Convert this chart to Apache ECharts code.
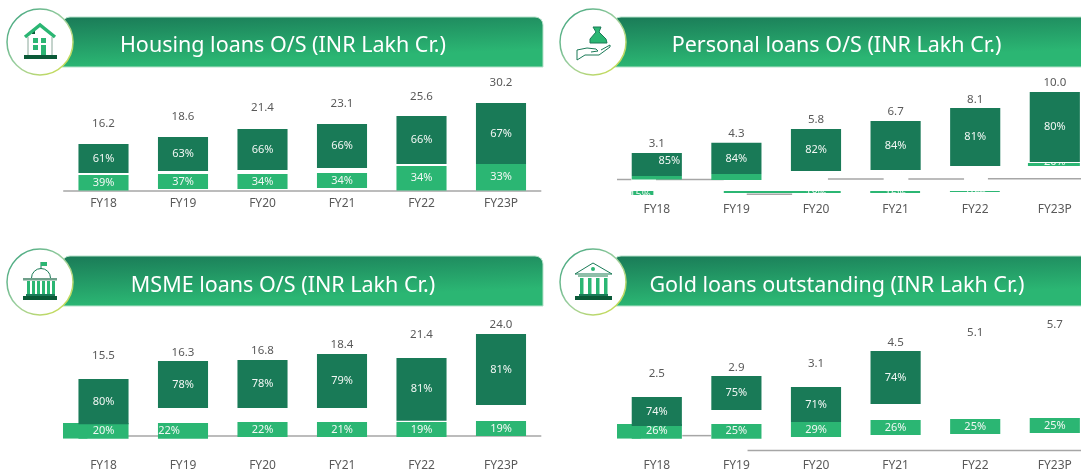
<!DOCTYPE html>
<html>
<head>
<meta charset="utf-8">
<style>
  html, body { margin: 0; padding: 0; background: #fff; }
  #chart { width: 1081px; height: 476px; }
</style>
<script src="https://cdn.jsdelivr.net/npm/echarts@6/dist/echarts.min.js"></script>
</head>
<body>
<div id="chart"></div>
<script>
const categories = ['FY18', 'FY19', 'FY20', 'FY21', 'FY22', 'FY23P']

// INR Lakh Cr. Segment ends are read off the picture, the bars there do not sit on the axis exactly
const housingTotals = ['16.2', '18.6', '21.4', '23.1', '25.6', '30.2']
const housingDarkShare = ['61%', '63%', '66%', '66%', '66%', '67%']
const housingLightShare = ['39%', '37%', '34%', '34%', '34%', '33%']
const housingDarkTop = [16.15, 18.58, 21.35, 23.09, 25.87, 30.38]
const housingDarkBottom = [6.08, 6.77, 7.12, 7.81, 9.2, 9.2]
const housingLightTop = [5.38, 5.73, 5.73, 6.08, 8.51, 9.2]
const housingLightBottom = [0, 0.52, 0.52, 0.87, 0, 0]
const housingTotalAt = [23.09, 25.52, 28.65, 30.03, 32.47, 37.33]

const personalTotals = ['3.1', '4.3', '5.8', '6.7', '8.1', '10.0']
const personalDarkShare = ['85%', '84%', '82%', '84%', '81%', '80%']
const personalDarkTop = [3.03, 4.2, 5.77, 6.69, 8.17, 10]
const personalDarkBottom = [0.4, 0.63, 0.97, 1.09, 1.54, 2]
const personalLightTop = [0.4, 0.63, null, null, null, 1.89]
const personalLightBottom = [0, -0.06, null, null, null, 1.54]
const personalTotalAt = [4.06, 5.23, 6.8, 7.71, 9.12, 11.03]

const msmeTotals = ['15.5', '16.3', '16.8', '18.4', '21.4', '24.0']
const msmeDarkShare = ['80%', '78%', '78%', '79%', '81%', '81%']
const msmeLightShare = ['20%', '22%', '22%', '21%', '19%', '19%']
const msmeDarkTop = [13.41, 17.65, 17.88, 19.29, 18.35, 24]
const msmeDarkBottom = [2.75, 6.59, 6.59, 6.59, 3.6, 7.29]
const msmeLightTop = [3.06, 3.06, 3.29, 3.29, 3.29, 3.53]
const msmeLightBottom = [-0.64, -0.64, -0.24, -0.24, -0.24, 0]
const msmeTotalAt = [18.89, 19.6, 20.07, 21.41, 23.76, 26.19]

const goldTotals = ['2.5', '2.9', '3.1', '4.5', '5.1', '5.7']
const goldDarkShare = ['74%', '75%', '71%', '74%', null, null]
const goldLightShare = ['26%', '25%', '29%', '26%', '25%', '25%']
const goldDarkTop = [2.17, 3.33, 2.72, 4.72, null, null]
const goldDarkBottom = [0.56, 1.44, 0.78, 1.78, null, null]
const goldLightTop = [0.67, 0.67, 0.78, 0.89, 0.94, 1]
const goldLightBottom = [-0.15, -0.15, -0.06, 0.06, 0.11, 0.17]
const goldTotalAt = [3.44, 3.79, 4.02, 5.18, 5.74, 6.17]

// green pieces with no whole bar of their own: x in category widths from the grid edge
const personalPieces = [
  { from: 0.18, to: 0.46, low: -1.31, high: -1.77, text: '15%', at: 0.29, textY: -1.77 },
  { from: 1.34, to: 2.81, low: -1.31, high: -1.54, text: '16%', at: 1.5, textY: -1.6 },
  { from: 1.34, to: 2.81, low: -1.31, high: -1.54, text: '18%', at: 2.5, textY: -1.6 },
  { from: 3.18, to: 3.81, low: -1.31, high: -1.54, text: '16%', at: 3.5, textY: -1.6 },
  { from: 4.18, to: 4.81, low: -1.31, high: -1.43, text: '19%', at: 4.5, textY: -1.5 },
  { from: 5.16, to: 5.79, low: 1.54, high: 1.89, text: '20%', at: 5.5, textY: 1.98 }
]
const msmePieces = [{ from: -0.01, to: 0.3, low: -0.64, high: 3.06 }]
const goldPieces = [{ from: 0, to: 0.3, low: -0.15, high: 0.67 }]

// baseline stretches where the axis is broken up: [from, to, y]
const personalRules = [[0, 0.18, 0], [0.49, 1.34, 0], [2.65, 3.35, 0.06], [3.66, 4.36, 0.06], [4.66, 6, 0.09], [1.63, 2.2, -1.69]]
const goldRules = [[0.82, 1.18, 0.02], [1.64, 6, -0.8]]

const DARK = '#197a57'
const LIGHT = '#2bb673'
const FONT = 'Noto Sans'

const panels = [
  { title: 'Housing loans O/S (INR Lakh Cr.)', titleX: 283, titleY: 44, left: 63.75, width: 477, top: 70, height: 125, axisY: 190.5, pxPerUnit: 2.88, labelGap: 3, showAxis: true,
    totals: housingTotals, darkShare: housingDarkShare, lightShare: housingLightShare, darkTop: housingDarkTop, darkBottom: housingDarkBottom, lightTop: housingLightTop, lightBottom: housingLightBottom, totalAt: housingTotalAt, pieces: [], rules: [] },
  { title: 'Personal loans O/S (INR Lakh Cr.)', titleX: 836.5, titleY: 44, left: 617, width: 477.6, top: 70, height: 125, axisY: 179.5, pxPerUnit: 8.75, labelGap: 9, showAxis: false,
    totals: personalTotals, darkShare: personalDarkShare, lightShare: [], darkTop: personalDarkTop, darkBottom: personalDarkBottom, lightTop: personalLightTop, lightBottom: personalLightBottom, totalAt: personalTotalAt, pieces: personalPieces, rules: personalRules,
    darkNudge: { 0: [12.5, -4] } },
  { title: 'MSME loans O/S (INR Lakh Cr.)', titleX: 283, titleY: 284, left: 63.75, width: 477, top: 310, height: 132, axisY: 436, pxPerUnit: 4.25, labelGap: 18, showAxis: true,
    totals: msmeTotals, darkShare: msmeDarkShare, lightShare: msmeLightShare, darkTop: msmeDarkTop, darkBottom: msmeDarkBottom, lightTop: msmeLightTop, lightBottom: msmeLightBottom, totalAt: msmeTotalAt, pieces: msmePieces, rules: [],
    lightNudge: { 1: [-14, 0] } },
  { title: 'Gold loans outstanding (INR Lakh Cr.)', titleX: 837, titleY: 284, left: 617, width: 477.6, top: 310, height: 132, axisY: 436, pxPerUnit: 18, labelGap: 18, showAxis: false,
    totals: goldTotals, darkShare: goldDarkShare, lightShare: goldLightShare, darkTop: goldDarkTop, darkBottom: goldDarkBottom, lightTop: goldLightTop, lightBottom: goldLightBottom, totalAt: goldTotalAt, pieces: goldPieces, rules: goldRules }
]

function rectFrom(api, x0, x1, low, high) {
  const a = api.coord([x0, high])
  const b = api.coord([x1, low])
  return { x: a[0], y: a[1], width: b[0] - a[0], height: b[1] - a[1] }
}

function barSeries(p, n, name, color, low, high, labels, nudge, z) {
  return {
    name: name,
    type: 'custom',
    xAxisIndex: n * 2,
    yAxisIndex: n,
    z: z,
    clip: false,
    encode: { x: 0, y: [1, 2] },
    data: categories.map((c, i) => [i, low[i], high[i]]),
    renderItem: (params, api) => {
      const i = params.dataIndex
      if (low[i] == null) return null
      const center = api.coord([i, 0])[0]
      const w = api.size([1, 0])[0] * 0.63
      const a = api.coord([i, high[i]])
      const b = api.coord([i, low[i]])
      const kids = [{ type: 'rect', shape: { x: center - w / 2, y: a[1], width: w, height: b[1] - a[1] }, style: { fill: color } }]
      if (labels[i]) {
        const off = (nudge && nudge[i]) || [0, 0]
        kids.push({ type: 'text', style: { text: labels[i], x: center + off[0], y: (a[1] + b[1]) / 2 + off[1], fill: '#f2f7f4', font: '11px "' + FONT + '"', textAlign: 'center', textVerticalAlign: 'middle' } })
      }
      return { type: 'group', children: kids }
    }
  }
}

function pieceSeries(p, n) {
  return {
    name: 'pieces',
    type: 'custom',
    xAxisIndex: n * 2 + 1,
    yAxisIndex: n,
    z: 3,
    clip: false,
    encode: { x: [0, 1], y: [2, 3] },
    data: p.pieces.map(d => [d.from, d.to, d.low, d.high]),
    renderItem: (params, api) => {
      const d = p.pieces[params.dataIndex]
      const r = rectFrom(api, d.from, d.to, Math.min(d.low, d.high), Math.max(d.low, d.high))
      const kids = [{ type: 'rect', shape: r, style: { fill: LIGHT } }]
      if (d.text) {
        const c = api.coord([d.at, d.textY])
        kids.push({ type: 'text', style: { text: d.text, x: c[0], y: c[1], fill: '#f2f7f4', font: '11px "' + FONT + '"', textAlign: 'center', textVerticalAlign: 'middle' } })
      }
      return { type: 'group', children: kids, clipPath: { type: 'rect', shape: r } }
    }
  }
}

function ruleSeries(p, n) {
  return {
    name: 'rules',
    type: 'custom',
    xAxisIndex: n * 2 + 1,
    yAxisIndex: n,
    z: 1,
    clip: false,
    encode: { x: [0, 1], y: 2 },
    data: p.rules,
    renderItem: (params, api) => {
      const d = p.rules[params.dataIndex]
      const a = api.coord([d[0], d[2]])
      const b = api.coord([d[1], d[2]])
      return { type: 'line', shape: { x1: a[0], y1: a[1], x2: b[0], y2: b[1] }, style: { stroke: '#a6a6a6', lineWidth: 1.5 } }
    }
  }
}

function totalSeries(p, n) {
  return {
    name: 'total',
    type: 'custom',
    xAxisIndex: n * 2,
    yAxisIndex: n,
    z: 5,
    clip: false,
    encode: { x: 0, y: 1 },
    data: categories.map((c, i) => [i, p.totalAt[i]]),
    renderItem: (params, api) => {
      const c = api.coord([params.dataIndex, p.totalAt[params.dataIndex]])
      return { type: 'text', style: { text: p.totals[params.dataIndex], x: c[0], y: c[1], fill: '#595959', font: '11.5px "' + FONT + '"', textAlign: 'center', textVerticalAlign: 'middle' } }
    }
  }
}

const grid = panels.map(p => ({ left: p.left, top: p.top, width: p.width, height: p.height, outerBoundsMode: 'none' }))
const xAxis = []
panels.forEach((p, n) => {
  xAxis.push({
    type: 'category', gridIndex: n, data: categories,
    axisTick: { show: false },
    axisLine: { show: p.showAxis, lineStyle: { color: '#a6a6a6', width: 1.5 } },
    axisLabel: { color: '#595959', fontFamily: FONT, fontSize: 12, margin: p.labelGap, interval: 0 }
  })
  xAxis.push({ type: 'value', gridIndex: n, min: 0, max: 6, show: false, splitLine: { show: false } })
})
const yAxis = panels.map((p, n) => ({
  type: 'value', gridIndex: n, show: false, splitLine: { show: false },
  min: (p.axisY - (p.top + p.height)) / p.pxPerUnit,
  max: (p.axisY - p.top) / p.pxPerUnit
}))

const series = []
panels.forEach((p, n) => {
  series.push(ruleSeries(p, n))
  series.push(pieceSeries(p, n))
  series.push(barSeries(p, n, 'light', LIGHT, p.lightBottom, p.lightTop, p.lightShare, p.lightNudge, 2))
  series.push(barSeries(p, n, 'dark', DARK, p.darkBottom, p.darkTop, p.darkShare, p.darkNudge, 4))
  series.push(totalSeries(p, n))
})

// header bands and the round badges with their small pictures
const GREEN_DEEP = '#0b5a38'
function badgeRing(cx, cy) {
  return {
    type: 'circle', z: 2, shape: { cx: cx, cy: cy, r: 33 },
    style: { fill: '#fff', lineWidth: 1.5, stroke: { type: 'linear', x: 0, y: 0, x2: 1, y2: 1, colorStops: [{ offset: 0, color: '#2f9e78' }, { offset: 0.5, color: '#9fd0a0' }, { offset: 1, color: '#d3df3f' }] } }
  }
}
function band(x, y, w) {
  return {
    type: 'rect', z: 1, shape: { x: x, y: y, width: w, height: 50, r: [8, 8, 0, 0] },
    style: { lineWidth: 1, stroke: '#b5e2ca', fill: { type: 'linear', x: 0, y: 0, x2: 0.004, y2: 1, colorStops: [{ offset: 0, color: '#1a7a57' }, { offset: 1, color: LIGHT }] } }
  }
}
const box = (x, y, w, h, fill) => ({ type: 'rect', z: 3, shape: { x: x, y: y, width: w, height: h }, style: { fill: fill } })
const stroke = (points, color, w) => ({ type: 'polyline', z: 3, shape: { points: points }, style: { stroke: color, lineWidth: w, fill: 'none' } })
const at = (c, y, pts) => pts.map(q => [c + q[0], y + q[1]])

function houseIcon(c, y) {
  return [
    box(c - 8, y - 13, 3, 5, GREEN_DEEP),
    stroke([[c - 12, y - 5], [c - 12, y + 13]], '#8aa89a', 1),
    stroke([[c + 12, y - 5], [c + 12, y + 13]], '#8aa89a', 1),
    stroke([[c - 15, y - 5], [c, y - 17], [c + 15, y - 5]], LIGHT, 3.5),
    box(c - 7, y - 4, 5, 5, LIGHT), box(c + 1, y - 4, 5, 5, LIGHT),
    box(c - 7, y + 3, 5, 5, LIGHT), box(c + 1, y + 3, 5, 10, LIGHT),
    box(c - 16, y + 13, 33, 4, GREEN_DEEP)
  ]
}
function bagIcon(c, y) {
  return [
    { type: 'polygon', z: 3, shape: { points: at(c, y, [[0, -15], [8, -15], [6, -10], [13, -3], [14, 1], [-3, 1], [-3, -3], [3, -10]]) }, style: { fill: LIGHT, stroke: '#1a7a57', lineWidth: 1 } },
    stroke(at(c, y, [[-16, 8], [-6, 6], [3, 7], [5, 9], [-2, 10]]), '#1a7a57', 1),
    stroke(at(c, y, [[-16, 8], [-16, 18], [-8, 13], [6, 13], [17, 5], [17, 3], [8, 8]]), '#1a7a57', 1)
  ]
}
function domeIcon(c, y) {
  const kids = [
    stroke([[c + 1, y - 13], [c + 1, y - 20]], '#1a7a57', 1),
    { type: 'polygon', z: 3, shape: { points: at(c, y, [[1, -20], [7, -20], [7, -16], [1, -16]]) }, style: { fill: LIGHT } },
    { type: 'arc', z: 3, shape: { cx: c + 1, cy: y - 4, r: 9.5, startAngle: Math.PI, endAngle: 0 }, style: { stroke: '#1a7a57', lineWidth: 1, fill: 'none' } },
    box(c - 17, y - 4, 34, 2.5, '#6f9f8a'),
    box(c - 17, y + 14, 34, 4, GREEN_DEEP), box(c - 14, y + 12, 29, 2, '#1a7a57')
  ]
  for (let i = 0; i < 6; i++) kids.push(box(c - 13 + i * 5, y - 1, 3, 13, LIGHT))
  return kids
}
function bankIcon(c, y) {
  return [
    { type: 'polygon', z: 3, shape: { points: at(c, y, [[-18, -8], [0, -19], [19, -8]]) }, style: { fill: 'none', stroke: '#1a7a57', lineWidth: 1 } },
    { type: 'circle', z: 3, shape: { cx: c, cy: y - 13, r: 2 }, style: { fill: LIGHT } },
    box(c - 15, y - 8, 30, 3, '#8fbfa8'),
    box(c - 13, y - 4, 3.5, 16, LIGHT), box(c - 5, y - 4, 3.5, 16, LIGHT), box(c + 3, y - 4, 3.5, 16, LIGHT), box(c + 11, y - 4, 3.5, 16, LIGHT),
    box(c - 14, y + 12, 29, 2, '#1a7a57'), box(c - 18, y + 14, 37, 4, GREEN_DEEP)
  ]
}

const graphicElements = [
  band(62, 17, 481), band(613, 17, 490), band(62, 256, 481), band(613, 256, 490),
  badgeRing(40, 42), badgeRing(593, 42), badgeRing(40, 282), badgeRing(593, 282)
].concat(houseIcon(40, 42), bagIcon(593, 42), domeIcon(40, 282), bankIcon(593, 282))

// title has 5px of padding that textAlign does not take off
const titles = panels.map(p => ({
  text: p.title, left: p.titleX - 5, top: p.titleY - 18, textAlign: 'center',
  textStyle: { color: '#fff', fontFamily: FONT, fontSize: 21.5, fontWeight: 'normal', lineHeight: 30 }
}))

const myChart = echarts.init(document.getElementById('chart'), null, { renderer: 'canvas' })
myChart.setOption({
  animation: false,
  backgroundColor: '#fff',
  title: titles,
  grid: grid,
  xAxis: xAxis,
  yAxis: yAxis,
  series: series,
  graphic: { elements: graphicElements }
})
</script>
</body>
</html>
